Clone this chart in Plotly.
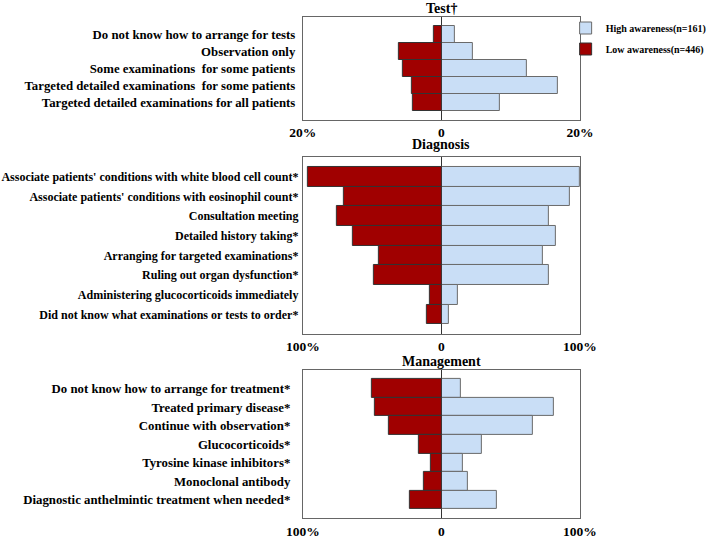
import plotly.graph_objects as go

# ---- data ----
test_items = [
    "Do not know how to arrange for tests",
    "Observation only",
    "Some examinations  for some patients",
    "Targeted detailed examinations  for some patients",
    "Targeted detailed examinations for all patients",
]
test_high = [1.9, 4.5, 12.4, 16.8, 8.5]
test_low = [1.1, 6.1, 5.5, 4.3, 4.1]

diag_items = [
    "Associate patients' conditions with white blood cell count*",
    "Associate patients' conditions with eosinophil count*",
    "Consultation meeting",
    "Detailed history taking*",
    "Arranging for targeted examinations*",
    "Ruling out organ dysfunction*",
    "Administering glucocorticoids immediately",
    "Did not know what examinations or tests to order*",
]
diag_high = [100.0, 92.8, 77.5, 82.6, 73.4, 77.8, 11.8, 5.1]
diag_low = [96.6, 70.5, 75.4, 63.8, 44.9, 48.6, 8.2, 10.6]

mgmt_items = [
    "Do not know how to arrange for treatment*",
    "Treated primary disease*",
    "Continue with observation*",
    "Glucocorticoids*",
    "Tyrosine kinase inhibitors*",
    "Monoclonal antibody",
    "Diagnostic anthelmintic treatment when needed*",
]
mgmt_high = [14.0, 81.0, 66.2, 29.5, 15.7, 19.3, 40.0]
mgmt_low = [50.5, 47.9, 37.9, 16.4, 7.6, 12.6, 22.9]

panels = [
    ("Test†", test_items, test_high, test_low, 20, "20%"),
    ("Diagnosis", diag_items, diag_high, diag_low, 100, "100%"),
    ("Management", mgmt_items, mgmt_high, mgmt_low, 100, "100%"),
]

HIGH_C = "#C9DEF6"
LOW_C = "#A00000"
FONT = "Liberation Serif"

# ---- layout geometry (paper fractions) ----
x_dom = [0.423, 0.81]
y_doms = [[0.7778, 0.9685], [0.3815, 0.7093], [0.040, 0.315]]
title_y = [0.985, 0.7315, 0.331]
label_standoff = [4, 1, 9]
label_size = [12.8, 12.0, 12.8]

fig = go.Figure()
layout = {}
annotations = []
for i, (title, items, high, low, rng, tick_txt) in enumerate(panels):
    k = "" if i == 0 else str(i + 1)
    xa, ya = "x" + k, "y" + k
    fig.add_trace(go.Bar(
        y=items, x=high, orientation="h", name="High awareness(n=161)",
        marker=dict(color=HIGH_C, line=dict(color="#6a6a6a", width=1)),
        xaxis=xa, yaxis=ya, showlegend=(i == 0), legendgroup="high",
    ))
    fig.add_trace(go.Bar(
        y=items, x=[-v for v in low], orientation="h", name="Low awareness(n=446)",
        marker=dict(color=LOW_C, line=dict(color="#333333", width=1)),
        xaxis=xa, yaxis=ya, showlegend=(i == 0), legendgroup="low",
        customdata=low, hovertemplate="%{y}: %{customdata}%<extra>Low awareness</extra>",
    ))
    n = len(items)
    layout["xaxis" + k] = dict(
        domain=x_dom, anchor=ya, range=[-rng, rng], automargin=False,
        tickvals=[-rng, 0, rng], ticktext=[tick_txt, "0", tick_txt],
        showgrid=False, zeroline=True, zerolinecolor="#333333", zerolinewidth=1,
        showline=True, mirror=True, linecolor="#666666", linewidth=1,
        ticks="", ticklen=0, ticklabelstandoff=0,
        tickfont=dict(family=FONT, size=13.5, color="black", weight="bold"),
    )
    layout["yaxis" + k] = dict(
        domain=y_doms[i], anchor=xa, type="category", automargin=False,
        categoryorder="array", categoryarray=items, range=[n, -1],
        showgrid=False, showline=True, mirror=True, linecolor="#666666", linewidth=1,
        ticks="", ticklen=0, ticklabelstandoff=label_standoff[i],
        tickfont=dict(family=FONT, size=label_size[i], color="black", weight="bold"),
    )
    annotations.append(dict(
        text=title, x=0.616, y=title_y[i], xref="paper", yref="paper",
        showarrow=False, xanchor="center", yanchor="middle",
        font=dict(family=FONT, size=14, color="black", weight="bold"),
    ))

fig.update_layout(
    **layout,
    annotations=annotations,
    barmode="relative", bargap=0,
    width=716, height=540,
    margin=dict(l=0, r=0, t=0, b=0, autoexpand=False),
    paper_bgcolor="white", plot_bgcolor="white",
    legend=dict(
        x=0.79, y=0.975, xanchor="left", yanchor="top",
        font=dict(family=FONT, size=10, color="black", weight="bold"),
        bgcolor="rgba(0,0,0,0)", tracegroupgap=2, itemwidth=30,
    ),
    showlegend=True,
)

fig.write_html("out.html", config={"displayModeBar": False},
               post_script="document.body.style.margin='0';")
